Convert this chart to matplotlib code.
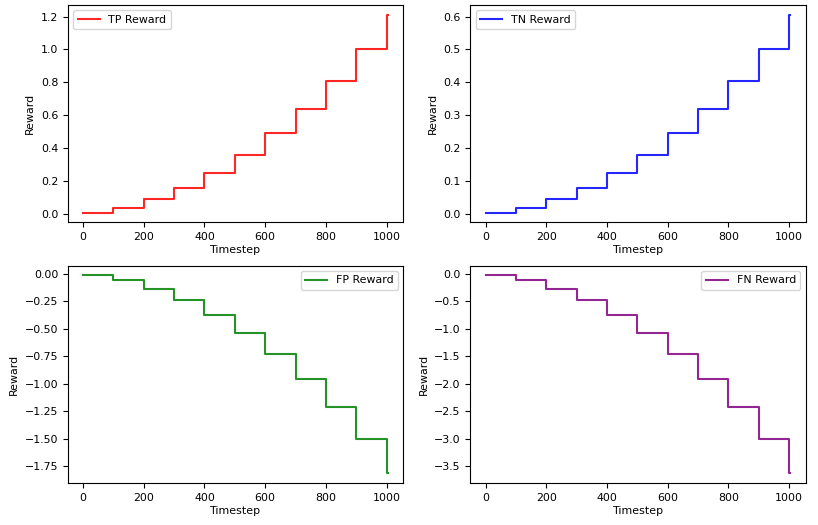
import matplotlib
matplotlib.use("Agg")
import matplotlib.pyplot as plt
from matplotlib.ticker import MultipleLocator

plt.rcParams["font.size"] = 7.9

timesteps = [0, 100, 200, 300, 400, 500, 600, 700, 800, 900, 1000, 1005]
tp_reward = [0.01, 0.04, 0.09, 0.16, 0.25, 0.36, 0.49, 0.64, 0.81, 1.00, 1.21, 1.21]
tn_reward = [0.005, 0.02, 0.045, 0.08, 0.125, 0.18, 0.245, 0.32, 0.405, 0.50, 0.605, 0.605]
fp_reward = [-0.015, -0.06, -0.135, -0.24, -0.375, -0.54, -0.735, -0.96, -1.215, -1.50, -1.815, -1.815]
fn_reward = [-0.03, -0.12, -0.27, -0.48, -0.75, -1.08, -1.47, -1.92, -2.43, -3.00, -3.63, -3.63]

series = [
    ("TP Reward", tp_reward, "red", "upper left", 0.2),
    ("TN Reward", tn_reward, "blue", "upper left", 0.1),
    ("FP Reward", fp_reward, "green", "upper right", 0.25),
    ("FN Reward", fn_reward, "purple", "upper right", 0.5),
]

fig, axes = plt.subplots(2, 2, figsize=(8.18, 5.25), dpi=100)
fig.subplots_adjust(left=0.083, right=0.985, top=0.9905, bottom=0.08, wspace=0.2, hspace=0.198)

for ax, (label, vals, color, loc, ystep) in zip(axes.flat, series):
    ax.step(timesteps, vals, where="post", color=color, label=label, alpha=0.85, linewidth=1.5)
    ax.set_xlabel("Timestep", labelpad=2)
    ax.set_ylabel("Reward")
    ax.yaxis.set_major_locator(MultipleLocator(ystep))
    ax.legend(loc=loc)

fig.savefig("out.png", dpi=100)
